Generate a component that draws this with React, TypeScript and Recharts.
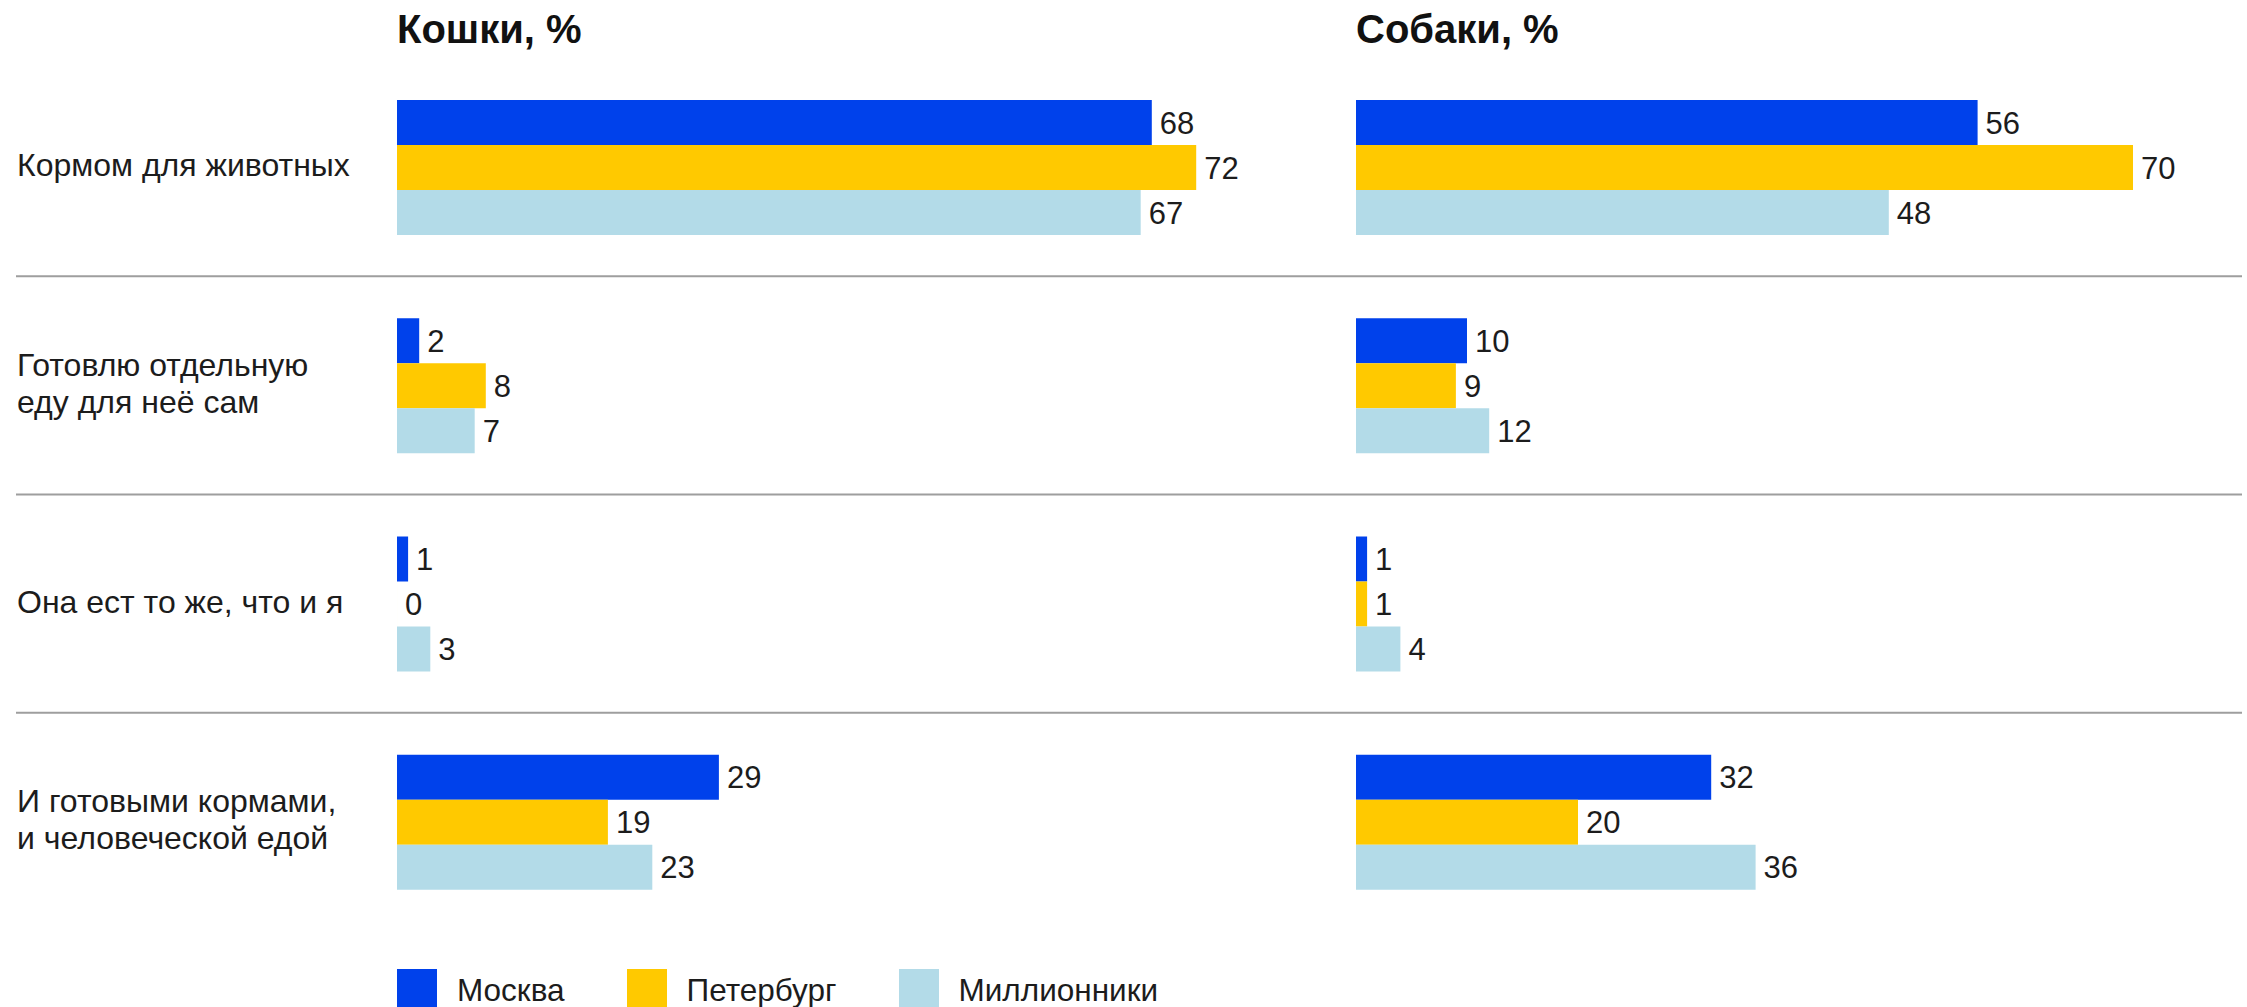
import React from 'react';
import { BarChart, Bar, XAxis, YAxis, CartesianGrid, LabelList, Legend } from 'recharts';

const categories = [
  'Кормом для животных',
  'Готовлю отдельную\nеду для неё сам',
  'Она ест то же, что и я',
  'И готовыми кормами,\nи человеческой едой',
];
const seriesNames = ['Москва', 'Петербург', 'Миллионники'];
const seriesColors = ['#0041eb', '#ffc900', '#b3dbe8'];

const catsMoscow = [68, 2, 1, 29];
const catsPetersburg = [72, 8, 0, 19];
const catsMillion = [67, 7, 3, 23];

const dogsMoscow = [56, 10, 1, 32];
const dogsPetersburg = [70, 9, 1, 20];
const dogsMillion = [48, 12, 4, 36];

const panelTitles = ['Кошки, %', 'Собаки, %'];
const valueDomain = [0, 80];

const FONT = '"Liberation Sans", Arial, Helvetica, sans-serif';
const TEXT = '#1c1c1c';

const catsData = categories.map((c, i) => ({
  category: c,
  s0: catsMoscow[i],
  s1: catsPetersburg[i],
  s2: catsMillion[i],
}));
const dogsData = categories.map((c, i) => ({
  category: c,
  s0: dogsMoscow[i],
  s1: dogsPetersburg[i],
  s2: dogsMillion[i],
}));

const CHART_H = 1007;
const MARGIN_TOP = 58;
const MARGIN_BOTTOM = 76;

const boundaryGenerator = (props: any) => {
  const yAxis = props && props.yAxis;
  const offset = props && props.offset;
  const scale = yAxis && yAxis.scale;
  const out: number[] = [];
  categories.slice(1).forEach((c, idx) => {
    let v: any = undefined;
    if (scale) {
      if (typeof scale === 'function') v = scale(c);
      else if (typeof scale.map === 'function') v = scale.map(c);
    }
    if (typeof v !== 'number' || isNaN(v)) {
      if (offset) v = offset.top + ((idx + 1) * offset.height) / categories.length;
    }
    if (typeof v === 'number') out.push(v);
  });
  return out;
};

const CategoryTick = (props: any) => {
  const { y, payload } = props;
  const lines = String(payload.value).split('\n');
  const lh = 37;
  const first = y + 9 - ((lines.length - 1) * lh) / 2;
  return (
    <text x={17} y={first} fill={TEXT} fontSize={32} fontFamily={FONT} textAnchor="start">
      {lines.map((l, i) => (
        <tspan key={i} x={17} y={first + i * lh}>
          {l}
        </tspan>
      ))}
    </text>
  );
};

const LegendContent = () => (
  <div style={{ display: 'flex', flexDirection: 'row', alignItems: 'flex-start', fontFamily: FONT }}>
    {seriesNames.map((n, i) => (
      <div key={n} style={{ display: 'flex', flexDirection: 'row', alignItems: 'flex-start', marginRight: 62 }}>
        <div style={{ width: 40, height: 38, background: seriesColors[i] }} />
        <div style={{ marginLeft: 20, fontSize: 31.5, lineHeight: '34px', paddingTop: 4, color: TEXT, whiteSpace: 'nowrap' }}>{n}</div>
      </div>
    ))}
  </div>
);

const minSize = (value: any) => (value === 0 ? 0.01 : 0);

const renderBars = () =>
  seriesNames.map((n, i) => (
    <Bar
      key={n}
      dataKey={`s${i}`}
      name={n}
      fill={seriesColors[i]}
      barSize={45}
      minPointSize={minSize}
      isAnimationActive={false}
    >
      <LabelList dataKey={`s${i}`} position="right" offset={8} fill={TEXT} fontSize={31} fontFamily={FONT} />
    </Bar>
  ));

const titleStyle = (left: number): React.CSSProperties => ({
  position: 'absolute',
  left,
  top: 9,
  fontFamily: FONT,
  fontWeight: 700,
  fontSize: 40,
  lineHeight: '40px',
  color: '#111',
  whiteSpace: 'nowrap',
});

export default function App() {
  return (
    <div style={{ position: 'absolute', left: 0, top: 0, width: 2247, height: 1007, overflow: 'hidden', background: '#fff' }}>
      <div style={{ position: 'absolute', left: 0, top: 0 }}>
        <BarChart
          width={1300}
          height={CHART_H}
          data={catsData}
          layout="vertical"
          barGap={0}
          margin={{ top: MARGIN_TOP, bottom: MARGIN_BOTTOM, left: 0, right: 15 }}
        >
          <CartesianGrid
            vertical={false}
            stroke="#9e9e9e"
            strokeWidth={2}
            x={16}
            width={1284}
            horizontalCoordinatesGenerator={boundaryGenerator}
          />
          <XAxis type="number" domain={valueDomain} hide />
          <YAxis
            type="category"
            dataKey="category"
            width={397}
            axisLine={false}
            tickLine={false}
            tick={<CategoryTick />}
            interval={0}
          />
          <Legend
            layout="vertical"
            align="center"
            verticalAlign="middle"
            content={<LegendContent />}
            wrapperStyle={{ left: 397, top: 969, width: 900, height: 38 }}
          />
          {renderBars()}
        </BarChart>
      </div>
      <div style={{ position: 'absolute', left: 1300, top: 0 }}>
        <BarChart
          width={947}
          height={CHART_H}
          data={dogsData}
          layout="vertical"
          barGap={0}
          margin={{ top: MARGIN_TOP, bottom: MARGIN_BOTTOM, left: 56, right: 3 }}
        >
          <CartesianGrid
            vertical={false}
            stroke="#9e9e9e"
            strokeWidth={2}
            x={0}
            width={942}
            horizontalCoordinatesGenerator={boundaryGenerator}
          />
          <XAxis type="number" domain={valueDomain} hide />
          <YAxis type="category" dataKey="category" hide width={0} />
          {renderBars()}
        </BarChart>
      </div>
      <div style={titleStyle(397)}>{panelTitles[0]}</div>
      <div style={titleStyle(1356)}>{panelTitles[1]}</div>
    </div>
  );
}
